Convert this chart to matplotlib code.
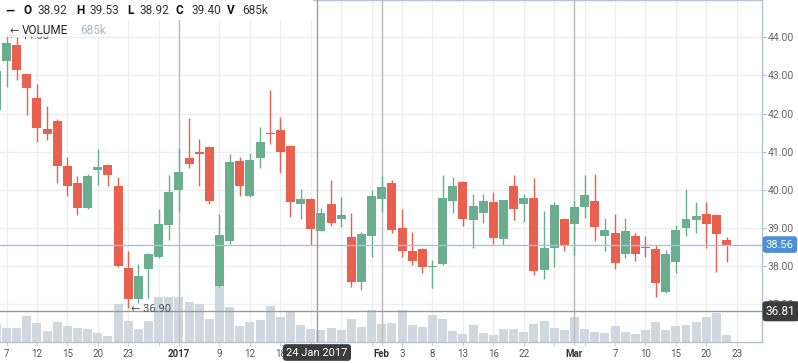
#====== Librerías ======
import numpy as np
import pandas as pd
import matplotlib
matplotlib.use("Agg")
import matplotlib.pyplot as plt
from matplotlib.patches import Rectangle

plt.rcParams['font.family'] = ['Roboto', 'DejaVu Sans']

#====== Datos ======
# días hábiles (sin feriados de EE.UU.), el último día es sólo eje
dias = pd.bdate_range("2016-12-06", "2017-03-23", freq="C",
                      holidays=["2016-12-26", "2017-01-02", "2017-01-16", "2017-02-20"])

apertura = np.array([42.09, 43.38, 43.80, 43.04, 42.40, 41.59, 41.80, 40.62, 40.18, 39.53,
                     40.52, 40.65, 40.10, 37.94, 37.13, 37.93, 38.24, 39.07, 39.99, 40.84,
                     41.00, 41.13, 37.48, 38.66, 40.75, 39.83, 40.84, 41.50, 41.57, 41.15,
                     39.63, 39.76, 38.92, 39.63, 39.24, 38.77, 37.59, 38.78, 39.76, 40.18,
                     39.00, 38.39, 38.45, 37.97, 38.05, 39.71, 40.20, 39.21, 39.40, 39.68,
                     38.70, 40.10, 39.63, 39.78, 37.89, 38.46, 39.23, 39.09, 39.55, 39.70,
                     38.79, 38.86, 38.31, 38.78, 38.49, 38.44, 37.32, 38.11, 39.00, 39.20,
                     39.36, 39.34, 38.68])
maximo = np.array([43.30, 44.08, 44.00, 43.04, 42.77, 42.20, 41.85, 40.87, 40.36, 40.41,
                   41.07, 40.68, 40.33, 38.39, 38.05, 38.33, 39.49, 40.39, 41.10, 41.87,
                   41.33, 41.15, 39.36, 40.95, 40.87, 40.96, 41.65, 42.62, 41.92, 41.17,
                   40.02, 39.78, 39.53, 40.25, 39.80, 39.38, 38.88, 39.99, 40.36, 40.25,
                   39.49, 38.90, 38.47, 38.15, 40.39, 40.34, 40.22, 39.89, 39.89, 39.94,
                   39.74, 40.39, 39.89, 40.30, 39.45, 39.68, 39.27, 39.71, 40.39, 40.41,
                   39.27, 39.36, 39.27, 38.86, 38.78, 38.55, 38.42, 39.07, 40.02, 39.68,
                   39.68, 39.36, 38.75])
minimo = np.array([41.95, 42.69, 42.88, 41.96, 41.26, 41.30, 40.17, 39.83, 39.34, 39.49,
                   40.12, 40.10, 37.97, 36.90, 37.02, 37.17, 38.22, 38.68, 39.41, 40.58,
                   40.10, 39.62, 37.45, 38.58, 39.83, 39.82, 40.58, 41.20, 40.45, 39.29,
                   39.23, 38.55, 38.92, 39.05, 39.03, 37.45, 37.37, 38.23, 39.41, 38.87,
                   38.24, 38.02, 37.82, 37.43, 38.03, 39.40, 39.05, 38.48, 39.13, 38.58,
                   38.55, 39.20, 39.16, 37.76, 37.65, 37.96, 38.40, 38.29, 39.27, 38.66,
                   38.40, 37.91, 38.20, 38.14, 38.23, 37.19, 37.30, 37.82, 38.78, 38.86,
                   38.46, 37.85, 38.11])
cierre = np.array([43.12, 43.86, 43.14, 42.67, 41.63, 41.46, 40.63, 40.10, 39.53, 40.36,
                   40.60, 40.39, 38.00, 37.13, 37.73, 38.31, 39.10, 39.95, 40.47, 40.67,
                   40.94, 39.71, 38.81, 40.73, 40.10, 40.78, 41.25, 41.45, 41.00, 39.69,
                   39.76, 38.98, 39.40, 39.13, 39.34, 37.59, 38.84, 39.83, 40.08, 38.94,
                   38.40, 38.14, 37.98, 37.99, 39.78, 40.10, 39.23, 39.57, 39.70, 38.74,
                   39.73, 39.50, 39.78, 37.87, 38.46, 39.60, 38.55, 39.54, 39.86, 39.03,
                   38.94, 38.08, 38.92, 38.31, 38.46, 37.56, 38.31, 38.94, 39.23, 39.31,
                   39.10, 38.84, 38.56])
volumen = np.array([1030, 800, 800, 1480, 1085, 630, 1140, 915, 800, 740,
                    515, 345, 2170, 1200, 740, 1200, 2570, 2570, 2570, 2280,
                    2170, 1310, 3310, 2000, 915, 1140, 1255, 2055, 1430, 1770,
                    970, 740, 685, 800, 690, 1310, 855, 1830, 1030, 1085,
                    1830, 970, 855, 1540, 1310, 630, 455, 970, 515, 400,
                    740, 740, 570, 1030, 1200, 800, 685, 1430, 740, 570,
                    515, 915, 570, 455, 685, 1140, 685, 915, 970, 1140,
                    1430, 1655, 400])  # miles

# marcas del eje x: (fecha, texto); las vacías quedan tapadas en el original
marcas = [("2016-12-07", "7"), ("2016-12-12", "12"), ("2016-12-15", "15"),
          ("2016-12-20", "20"), ("2016-12-23", "23"), ("2016-12-29", ""),
          ("2017-01-03", "2017"), ("2017-01-09", "9"), ("2017-01-12", "12"),
          ("2017-01-18", "18"), ("2017-01-23", ""), ("2017-01-26", ""),
          ("2017-01-31", ""), ("2017-02-01", "Feb"), ("2017-02-03", "3"),
          ("2017-02-08", "8"), ("2017-02-13", "13"), ("2017-02-16", "16"),
          ("2017-02-22", "22"), ("2017-02-27", ""), ("2017-03-01", "Mar"),
          ("2017-03-02", ""), ("2017-03-07", "7"), ("2017-03-10", "10"),
          ("2017-03-15", "15"), ("2017-03-20", "20"), ("2017-03-23", "23")]
cambios_mes = ["2017-01-03", "2017-02-01", "2017-03-01"]

fecha_cursor = "2017-01-24"
precio_cursor = 36.81
volumen_tope = 19500  # tope del panel de volumen (miles)

#====== Colores ======
verde = "#6AAD8F"
rojo = "#E9604F"
gris_vol = "#D0D8DF"
borde = "#B4C2CF"

#====== Figura ======
W, H = 798, 363
fig = plt.figure(figsize=(W / 100, H / 100), dpi=100)
ax = fig.add_axes([0, 21 / H, 762 / W, 342 / H])

def fx(px):
    return px / W

def fy(py):
    return 1 - py / H

def pos(fecha):
    return dias.get_loc(pd.Timestamp(fecha))

x = np.arange(len(cierre))
y_bajo, y_alto = 36.003, 44.979
ax.set_xlim(0.359, 75.49)
ax.set_ylim(y_bajo, y_alto)

# volumen al fondo del panel
alto_vol = volumen / volumen_tope * (y_alto - y_bajo)
ax.bar(x, alto_vol, bottom=y_bajo, width=0.88, color=gris_vol, zorder=1)

# velas
sube = cierre >= apertura
colores = np.where(sube, verde, rojo)
cuerpo = np.maximum(np.abs(cierre - apertura), 0.03)
base = np.minimum(apertura, cierre)
ax.vlines(x, minimo, maximo, colors=colores, lw=1, zorder=3)
ax.bar(x, cuerpo, bottom=base, width=0.88, color=colores, zorder=4)

# líneas de cambio de mes / año
for f in cambios_mes:
    ax.axvline(pos(f), color="#BDBDBD", lw=1, zorder=2)

# precio actual y cursor
ax.axhline(cierre[-1], color="#A9C0E8", lw=1, zorder=5)
ax.axhline(precio_cursor, color="#9A9A9A", lw=1, zorder=6)
ax.axvline(pos(fecha_cursor) - 0.4, color="#9A9A9A", lw=1, zorder=6)

# máximo y mínimo
i_max = int(np.argmax(maximo))
i_min = int(np.argmin(minimo))
ax.annotate(f"← {maximo[i_max]:.2f}", (i_max, maximo[i_max]), xytext=(2, -1),
            textcoords="offset points", va="center", fontsize=8, color="#555555", zorder=7)
ax.annotate(f"← {minimo[i_min]:.2f}", (i_min, minimo[i_min]), xytext=(2, -1),
            textcoords="offset points", va="center", fontsize=8, color="#555555", zorder=7)

# ejes
ax.set_xticks([pos(f) for f, _ in marcas])
ax.set_xticklabels([t for _, t in marcas])
ax.set_yticks(np.arange(37, 45))
ax.yaxis.set_major_formatter(plt.FormatStrFormatter("%.2f"))
ax.yaxis.tick_right()
ax.tick_params(axis="x", length=3, color="#C9D1DA", labelsize=7, labelcolor="#555555", pad=2)
ax.tick_params(axis="y", length=3, color=borde, labelsize=7.5, labelcolor="#666666", pad=1)
for lbl in ax.get_xticklabels():
    if lbl.get_text() in ("2017", "Feb", "Mar"):
        lbl.set_fontweight("bold")
        lbl.set_color("#333333")
ax.set_axisbelow(True)
ax.grid(True, color="#EEEEEE", lw=1)
ax.spines["left"].set_visible(False)
for lado in ("top", "right", "bottom"):
    ax.spines[lado].set_color(borde)
    ax.spines[lado].set_linewidth(1)

# etiquetas a la derecha
ax.text(1 + 4 / 762, cierre[-1], f"{cierre[-1]:.2f}", transform=ax.get_yaxis_transform(),
        va="center", ha="left", fontsize=8, color="white", zorder=10, clip_on=False,
        bbox=dict(boxstyle="round,pad=0.3", fc="#4A8FD8", ec="none"))
ax.text(1 + 4 / 762, precio_cursor, f"{precio_cursor:.2f}", transform=ax.get_yaxis_transform(),
        va="center", ha="left", fontsize=8.5, color="white", zorder=10, clip_on=False,
        bbox=dict(boxstyle="round,pad=0.3", fc="#3C3C3C", ec="none"))

# fecha del cursor
fig.text(fx(317), fy(352.5), pd.Timestamp(fecha_cursor).strftime("%d %b %Y"),
         ha="center", va="center", fontsize=8, color="white", zorder=10,
         bbox=dict(boxstyle="round,pad=0.3", fc="#3C3C3C", ec="none"))

# encabezado O H L C V
fig.add_artist(Rectangle((0, fy(20)), fx(313), 20 / H, transform=fig.transFigure,
                         fc="white", ec="none", zorder=5))
fig.add_artist(Rectangle((0, fy(37)), fx(113), 17 / H, transform=fig.transFigure,
                         fc="white", ec="none", alpha=0.85, zorder=5))
i_c = pos(fecha_cursor)
encabezado = [(5, "—", True), (23, "O", True), (38, f"{apertura[i_c]:.2f}", False),
              (76, "H", True), (90, f"{maximo[i_c]:.2f}", False),
              (127, "L", True), (140, f"{minimo[i_c]:.2f}", False),
              (176, "C", True), (191, f"{cierre[i_c]:.2f}", False),
              (227, "V", True), (242, f"{volumen[i_c]}k", False)]
for px_, txt, negrita in encabezado:
    fig.text(fx(px_), fy(11), txt, ha="left", va="center", fontsize=8.5,
             fontweight="bold" if negrita else "normal",
             color="#111111" if negrita else "#333333", zorder=6)
fig.text(fx(9), fy(31), "←", ha="left", va="center", fontsize=8, color="#444444", zorder=6)
fig.text(fx(22), fy(31), "VOLUME", ha="left", va="center", fontsize=8.5, color="#222222", zorder=6)
fig.text(fx(80), fy(31), f"{volumen[i_c]}k", ha="left", va="center", fontsize=8.5,
         color="#A8B8C8", zorder=6)

fig.savefig("out.png", dpi=100)
